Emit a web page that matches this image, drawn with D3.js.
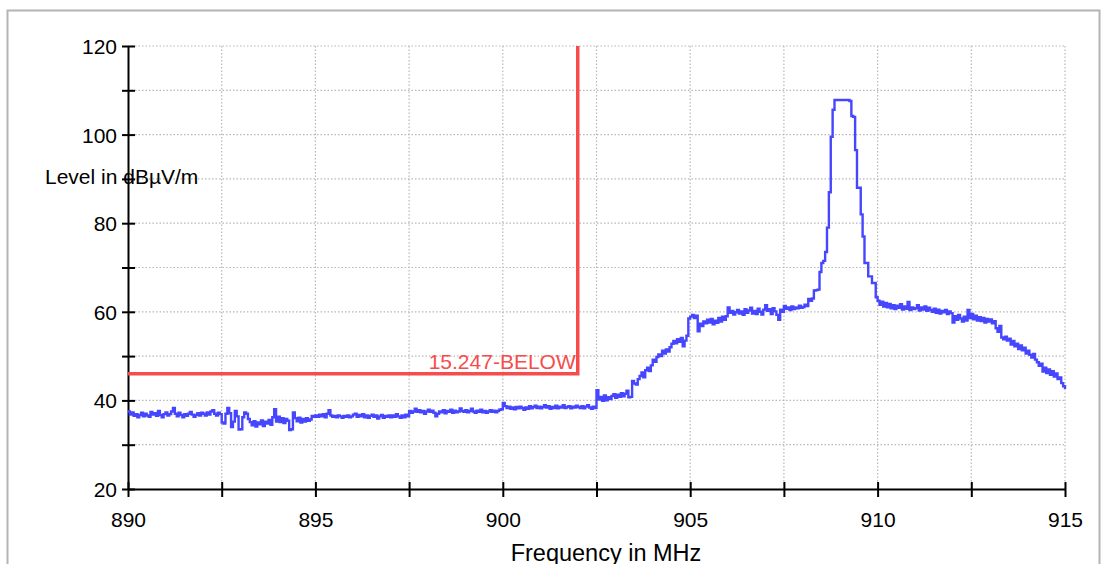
<!DOCTYPE html>
<html>
<head>
<meta charset="utf-8">
<script src="https://cdn.jsdelivr.net/npm/d3@7"></script>
<style>
body{margin:0;background:#fff}
text{font-family:"Liberation Sans",Arial,Helvetica,sans-serif}
</style>
</head>
<body>
<svg id="chart" width="1104" height="564"></svg>
<script>
// sweep: 890 MHz .. 915 MHz, one reading every 0.05 MHz
var sweepStart = 890
var sweepStep = 0.05

// levels in dBuV/m, one row per MHz
var levels = [
 37.5,36.8,37.3,36.5,36.9,36.2,36.7,37.2,36.4,37.0,36.6,36.3,37.4,36.8,37.1,36.5,37.6,36.7,36.2,36.9, // 890
 37.3,36.6,36.9,37.5,38.3,37.0,36.4,37.2,36.7,36.2,36.9,36.5,37.0,37.4,36.8,36.3,36.7,37.1,36.6,37.2, // 891
 37.0,36.6,37.3,36.8,37.5,37.8,37.0,36.6,37.2,36.9,35.0,34.8,37.0,38.3,37.1,34.0,35.2,37.6,36.4,33.4, // 892
 33.5,36.2,37.3,37.0,35.8,35.1,34.4,35.3,34.1,35.0,34.6,35.5,34.2,35.2,34.8,35.6,34.5,36.2,38.0,35.2, // 893
 36.3,35.1,36.0,34.9,35.8,35.4,33.3,33.5,37.3,36.0,35.3,36.1,35.0,35.8,35.2,36.0,35.4,35.7,36.5,36.3, // 894
 36.6,36.3,36.8,36.4,36.9,36.2,37.0,37.8,36.6,36.3,36.5,36.2,36.6,36.4,36.1,36.5,36.3,36.6,36.2,36.4, // 895
 36.8,37.0,36.3,36.7,36.4,36.9,36.2,36.6,36.1,36.5,36.8,36.3,36.6,35.9,36.4,36.7,36.1,36.5,36.3,36.6, // 896
 36.2,36.6,36.3,36.9,36.4,36.1,36.6,36.2,36.8,36.4,37.6,37.2,37.5,38.1,37.4,37.8,37.3,37.6,37.0,37.5, // 897
 37.9,37.4,37.7,37.2,36.4,37.0,37.5,37.3,37.8,37.1,37.6,37.4,37.9,37.2,37.7,37.3,37.5,38.2,37.6,37.4, // 898
 37.8,37.3,37.6,38.1,37.5,37.2,37.7,37.4,37.9,37.3,37.6,37.2,37.5,37.8,37.4,37.7,37.3,37.6,37.9,38.0, // 899
 39.4,38.7,38.3,38.6,38.1,38.4,38.0,38.5,38.2,38.6,38.3,37.9,38.4,38.1,38.7,38.2,38.5,38.8,38.3,38.6, // 900
 38.2,38.5,38.9,38.4,38.7,38.1,38.5,38.3,38.8,38.2,38.6,38.4,38.9,38.3,38.5,38.7,38.2,38.6,38.4,38.8, // 901
 38.5,38.3,38.7,38.2,38.6,38.9,38.4,38.1,38.6,38.3,42.3,40.2,40.8,39.9,41.1,40.0,40.7,40.3,41.0,41.4, // 902
 40.6,41.3,40.8,41.6,40.9,41.5,42.2,40.7,40.8,44.4,43.8,43.6,44.8,45.5,46.3,45.2,46.8,47.4,46.6,47.9, // 903
 49.2,48.7,49.8,50.4,50.0,51.2,50.6,51.5,51.0,52.0,52.8,53.4,52.9,53.8,53.2,54.1,52.2,53.5,54.6,58.5, // 904
 58.9,59.3,58.6,59.1,55.6,57.3,56.8,57.8,57.4,58.2,57.6,58.4,57.2,58.0,57.5,58.6,57.8,58.9,58.2,59.0, // 905
 61.0,59.8,60.2,59.4,59.9,60.4,59.6,60.1,59.3,60.6,59.8,60.3,60.9,59.6,60.2,59.5,60.7,60.0,59.4,60.5, // 906
 61.5,60.2,60.6,59.5,60.8,60.1,59.3,58.2,60.5,60.0,61.3,60.7,61.0,60.4,61.2,60.6,61.0,60.8,61.4,60.9, // 907
 61.1,61.6,61.3,62.9,62.5,63.0,64.8,64.9,65.0,69.0,71.0,71.5,73.5,79.0,87.0,99.5,105.6,107.8,107.8,107.8, // 908
 107.8,107.8,107.8,107.8,107.8,107.6,104.2,104.0,96.5,88.0,88.0,82.0,77.0,71.0,71.0,68.0,68.0,66.5,66.5,63.3, // 909
 62.5,61.6,62.3,61.2,62.0,61.0,61.8,60.8,61.5,60.6,61.4,60.9,61.7,60.5,61.2,60.7,62.2,60.4,61.0,60.6, // 910
 60.8,61.5,60.3,61.0,60.5,61.2,60.2,60.9,60.4,60.0,60.7,59.8,60.5,59.6,60.2,59.9,60.4,59.5,60.1,59.7, // 911
 57.6,59.0,58.2,59.3,58.5,57.8,58.9,58.0,60.4,58.6,59.5,58.3,59.1,58.0,58.8,57.9,58.6,57.6,58.4,57.8, // 912
 58.3,57.4,57.9,56.3,55.5,56.8,54.2,53.8,54.4,53.5,53.9,52.6,53.4,52.2,52.8,51.6,52.4,51.3,51.9,50.6, // 913
 51.2,50.3,49.7,50.5,49.2,48.6,47.8,48.3,46.5,47.4,46.2,47.0,45.8,46.6,45.4,46.1,44.8,45.2,43.9,43.2, // 914
 42.6
]

// limit line 15.247-BELOW
var limitFreq = [890, 902, 902]
var limitLevel = [46, 46, 120]
var limitName = "15.247-BELOW"

var xTicks = [890, 892.5, 895, 897.5, 900, 902.5, 905, 907.5, 910, 912.5, 915]
var xLabels = [890, 895, 900, 905, 910, 915]
var yTicks = [20, 30, 40, 50, 60, 70, 80, 90, 100, 110, 120]
var yLabels = [20, 40, 60, 80, 100, 120]

function draw(){
    var svg = d3.select("#chart")
    var left = 128, right = 1065, top = 46, bottom = 489

    var x = d3.scaleLinear().domain([890, 915]).range([left, right])
    var y = d3.scaleLinear().domain([20, 120]).range([bottom, top])

    // frame
    svg.append("rect")
        .attr("x", 7.5).attr("y", 10.5)
        .attr("width", 1092).attr("height", 600)
        .attr("fill", "none").attr("stroke", "#b4b4b4").attr("stroke-width", 2)

    // dotted grid
    var grid = svg.append("g")
    grid.selectAll("line.v").data(xTicks.slice(1)).enter().append("line")
        .attr("x1", d => x(d)).attr("x2", d => x(d))
        .attr("y1", top).attr("y2", bottom)
    grid.selectAll("line.h").data(yTicks.slice(1)).enter().append("line")
        .attr("x1", left).attr("x2", right)
        .attr("y1", d => y(d)).attr("y2", d => y(d))
    grid.selectAll("line")
        .attr("stroke", "#b8b8b8").attr("stroke-width", 1.2)
        .attr("stroke-dasharray", "1.5,2")

    // axes
    var xAxis = d3.axisBottom(x).tickValues(xTicks).tickSizeOuter(0)
        .tickFormat(d => xLabels.indexOf(d) >= 0 ? d : "")
    var gx = svg.append("g").attr("transform", "translate(0," + bottom + ")").call(xAxis)
    gx.select(".domain").attr("stroke", "#000").attr("stroke-width", 2)
    gx.selectAll(".tick line").attr("y1", -7).attr("y2", 8).attr("stroke", "#000").attr("stroke-width", 2)
    gx.selectAll(".tick text").attr("y", 38).attr("dy", 0)
        .attr("font-size", 21).attr("fill", "#000")
        .style("font-family", '"Liberation Sans",Arial,sans-serif')

    var yAxis = d3.axisLeft(y).tickValues(yTicks).tickSizeOuter(0)
        .tickFormat(d => yLabels.indexOf(d) >= 0 ? d : "")
    var gy = svg.append("g").attr("transform", "translate(" + left + ",0)").call(yAxis)
    gy.select(".domain").attr("stroke", "#000").attr("stroke-width", 2)
    gy.selectAll(".tick line").attr("x1", -6).attr("x2", 7).attr("stroke", "#000").attr("stroke-width", 2)
    gy.selectAll(".tick text").attr("x", -11).attr("dy", "0.36em")
        .attr("font-size", 21).attr("fill", "#000")
        .style("font-family", '"Liberation Sans",Arial,sans-serif')

    // axis titles
    svg.append("text").attr("x", 606).attr("y", 561)
        .attr("text-anchor", "middle").attr("font-size", 23.5)
        .text("Frequency in MHz")
    svg.append("text").attr("x", 45).attr("y", 184)
        .attr("font-size", 21)
        .text("Level in dBµV/m")

    // limit line
    var limit = limitFreq.map((f, i) => [f, limitLevel[i]])
    svg.append("path").datum(limit)
        .attr("d", d3.line().x(d => x(d[0])).y(d => y(d[1])))
        .attr("fill", "none").attr("stroke", "#f64c4c").attr("stroke-width", 3.5)
    svg.append("text").attr("x", x(902) - 2).attr("y", y(46) - 5)
        .attr("text-anchor", "end").attr("font-size", 21).attr("fill", "#f64c4c")
        .text(limitName)

    // trace
    var trace = levels.map((v, i) => [sweepStart + i * sweepStep, v])
    svg.append("path").datum(trace)
        .attr("d", d3.line().curve(d3.curveStepAfter).x(d => x(d[0])).y(d => y(d[1])))
        .attr("fill", "none").attr("stroke", "#4646ff").attr("stroke-width", 2.4)
}

window.onload = function(){
    draw()
}
</script>
</body>
</html>
